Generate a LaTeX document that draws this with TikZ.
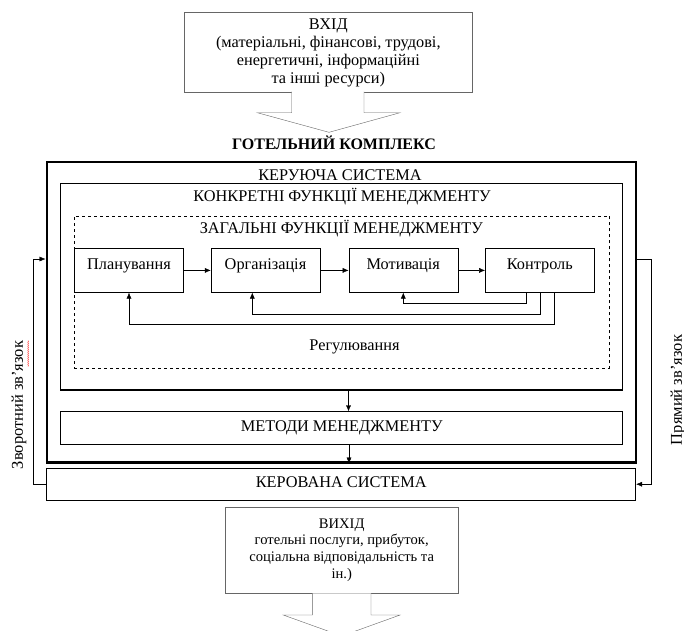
\documentclass[tikz,border=0pt]{standalone}
\usepackage{fontspec}
\setmainfont{Liberation Serif}
\usetikzlibrary{arrows.meta, decorations.pathmorphing}

\begin{document}
\begin{tikzpicture}[x=1pt, y=-1pt,
	every node/.style = {inner sep=0pt},
	txt/.style = {font=\fontsize{16.3}{18}\selectfont, text height=1.45ex, text depth=0pt},
	iobox/.style = {draw=black!60, align=center, font=\fontsize{16.3}{18}\selectfont},
	fnbox/.style = {draw, minimum width=109pt, minimum height=44pt, text height=11pt, text depth=13pt, font=\fontsize{16.3}{18}\selectfont},
	wide/.style = {txt, draw, line width=0.8pt},
	side/.style = {font=\fontsize{16.5}{18}\selectfont, rotate=90}]
	\useasboundingbox (0,0) rectangle (684,630);

	% input
	\node [iobox, minimum width=288pt, minimum height=80pt] (in) at (328.3,52.5) {ВХІД\\(матеріальні, фінансові, трудові,\\енергетичні, інформаційні\\та інші ресурси)};
	\draw [draw=black!60, fill=white] (291.7,91.7) -- (291.7,112.7) -- (257.3,112.7) -- (329,132.3) -- (400,112.7) -- (364,112.7) -- (364,91.7);
	\node [font=\bfseries\fontsize{16}{18}\selectfont, text height=1.45ex] (title) at (334,146.7) {ГОТЕЛЬНИЙ КОМПЛЕКС};

	% control system
	\node [draw, line width=2.4pt, minimum width=589.3pt, minimum height=300.6pt] (outer) at (341.35,312) {};
	\node [txt] (keruycha) at (340,176.7) {КЕРУЮЧА СИСТЕМА};
	\node [draw, line width=1.5pt, minimum width=561.8pt, minimum height=206.7pt] (konkr) at (341.6,286.65) {};
	\node [txt] (konkrt) at (342,198.3) {КОНКРЕТНІ ФУНКЦІЇ МЕНЕДЖМЕНТУ};
	\node [draw, dashed, minimum width=535pt, minimum height=152.6pt] (zag) at (341.8,292) {};
	\node [txt] (zagt) at (341.4,230) {ЗАГАЛЬНІ ФУНКЦІЇ МЕНЕДЖМЕНТУ};

	\node [fnbox] (plan) at (129,270.4) {Планування};
	\node [fnbox] (orh) at (265.5,270.4) {Організація};
	\node [fnbox] (motyv) at (403.3,270.4) {Мотивація};
	\node [fnbox] (kontr) at (539.8,270.4) {Контроль};
	\node [txt] (rehul) at (354.5,346.7) {Регулювання};

	\node [wide, minimum width=562pt, minimum height=32.3pt] (metody) at (341.7,427.85) {МЕТОДИ МЕНЕДЖМЕНТУ};
	\node [wide, minimum width=589pt, minimum height=31.7pt] (kerov) at (341.2,484.2) {КЕРОВАНА СИСТЕМА};

	% output
	\node [iobox, font=\fontsize{14.6}{16.7}\selectfont, minimum width=233.3pt, minimum height=86.6pt] (out) at (341.7,550) {ВИХІД\\готельні послуги, прибуток,\\соціальна відповідальність та\\ін.)};
	\draw [draw=black!60, fill=white] (312.3,593.3) -- (312.3,615) -- (283.3,615) -- (341.7,636) -- (400,615) -- (371,615) -- (371,593.3);

	\node [side] (zvor) at (19,405) {Зворотний зв’язок};
	\node [side] (pryam) at (678,390) {Прямий зв’язок};
	\draw [red!80, line width=0.4pt, decorate, decoration={snake, amplitude=0.5pt, segment length=2pt}] ([xshift=1.5pt]zvor.south east) -- ++(0,26);

	\begin{scope}[-{Latex[length=6pt, width=5pt]}]
		\draw (plan) -- (orh);
		\draw (orh) -- (motyv);
		\draw (motyv) -- (kontr);
		\draw ([xshift=-13.5pt]kontr.south) -- ++(0,11) -| (motyv.south);
		\draw (kontr.south) -- ++(0,21.6) -| ([xshift=-13.2pt]orh.south);
		\draw ([xshift=14.2pt]kontr.south) -- ++(0,32) -| (plan.south);
		\draw ([xshift=6.9pt]konkr.south) -- ([xshift=6.8pt]metody.north);
		\draw ([xshift=7.3pt]metody.south) -- ([xshift=7.65pt]outer.south);
		\draw (kerov.west) -- ++(-13.4,0) |- ([yshift=53pt]outer.west);
		\draw ([yshift=53pt]outer.east) -- ++(14,0) |- (kerov.east);
	\end{scope}
\end{tikzpicture}
\end{document}
